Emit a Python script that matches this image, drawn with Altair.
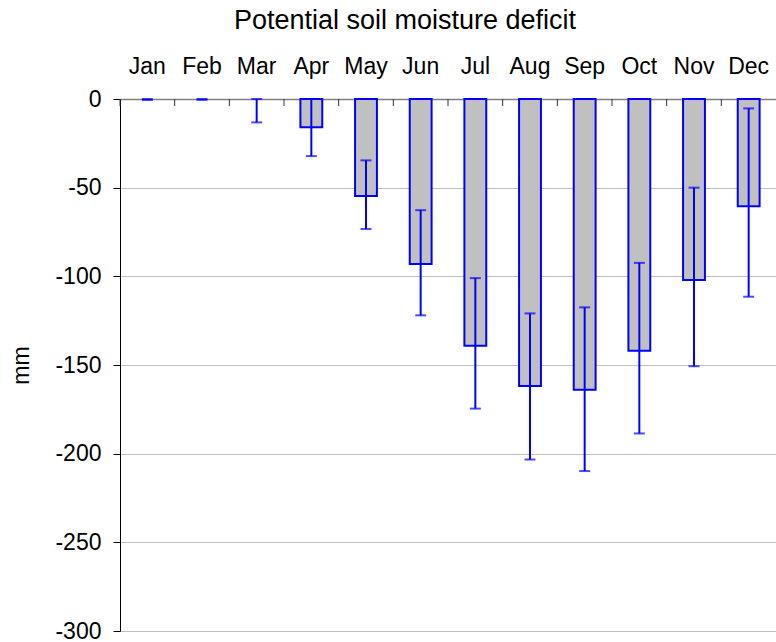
import altair as alt
import pandas as pd

# Monthly potential soil moisture deficit (mm) with error ranges
months = ["Jan", "Feb", "Mar", "Apr", "May", "Jun",
          "Jul", "Aug", "Sep", "Oct", "Nov", "Dec"]
deficit = [0.0, 0.0, 0.0, -15.9, -54.7, -93.1,
           -139.1, -161.8, -164.0, -141.9, -102.1, -60.5]
err_low = [-0.6, -0.5, -13.2, -32.2, -73.3, -122.0,
           -174.6, -203.3, -209.8, -188.6, -150.7, -111.5]
err_high = [0.0, 0.0, 0.0, 0.0, -34.6, -62.7,
            -101.0, -120.9, -117.5, -92.4, -50.0, -5.3]
y_ticks = [0, -50, -100, -150, -200, -250, -300]

df = pd.DataFrame({"month": months, "deficit": deficit,
                   "low": err_low, "high": err_high})

FONT = "Liberation Sans"
BLUE = "#0000ff"
W, H = 656, 532
STEP = W / len(months)

x_enc = alt.X(
    "month:N", sort=months, title=None,
    scale=alt.Scale(paddingInner=0.6, paddingOuter=0.3),
    axis=alt.Axis(orient="top", ticks=False, labelAngle=0,
                  labelFontSize=23, labelFont=FONT, labelColor="black",
                  labelPadding=21, domainColor="#808080", domainWidth=1.5),
)
y_scale = alt.Scale(domain=[-300, 0], nice=False, zero=False)
y_axis = alt.Axis(values=y_ticks, title="mm", titleFontSize=23,
                  titleFont=FONT, titleFontWeight="normal", titleColor="black",
                  titlePadding=21, labelFontSize=23, labelFont=FONT,
                  labelColor="black", labelPadding=12, tickSize=7,
                  tickColor="black", domainColor="black", gridColor="#c0c0c0",
                  labelExpr="'' + datum.value")

base = alt.Chart(df)

bars = base.transform_filter("datum.deficit < 0").mark_bar(
    color="#c0c0c0", stroke=BLUE, strokeWidth=2
).encode(x=x_enc, y=alt.Y("deficit:Q", scale=y_scale, axis=y_axis))

whisker = base.mark_rule(color=BLUE, strokeWidth=2).encode(
    x=alt.X("month:N", sort=months), y="low:Q", y2="high:Q")

cap_low = base.mark_tick(color=BLUE, size=11, thickness=2).encode(
    x=alt.X("month:N", sort=months), y="low:Q")
cap_high = base.mark_tick(color=BLUE, size=11, thickness=2).encode(
    x=alt.X("month:N", sort=months), y="high:Q")

# category separator ticks hanging down from the top axis line
sep_ticks = base.mark_rule(color="#333333", strokeWidth=1, xOffset=-STEP / 2).encode(
    x=alt.X("month:N", sort=months), y=alt.value(0), y2=alt.value(7))

chart = alt.layer(bars, whisker, cap_low, cap_high, sep_ticks).properties(
    width=W, height=H,
    title=alt.TitleParams("Potential soil moisture deficit", fontSize=27,
                          font=FONT, fontWeight="normal", color="black",
                          anchor="middle", dx=-43, offset=20),
    autosize=alt.AutoSizeParams(type="none"),
    padding={"left": 120, "top": 99, "right": 0, "bottom": 11},
).configure_view(stroke=None)

chart.save("out.html", embed_options={"renderer": "svg", "actions": False})
